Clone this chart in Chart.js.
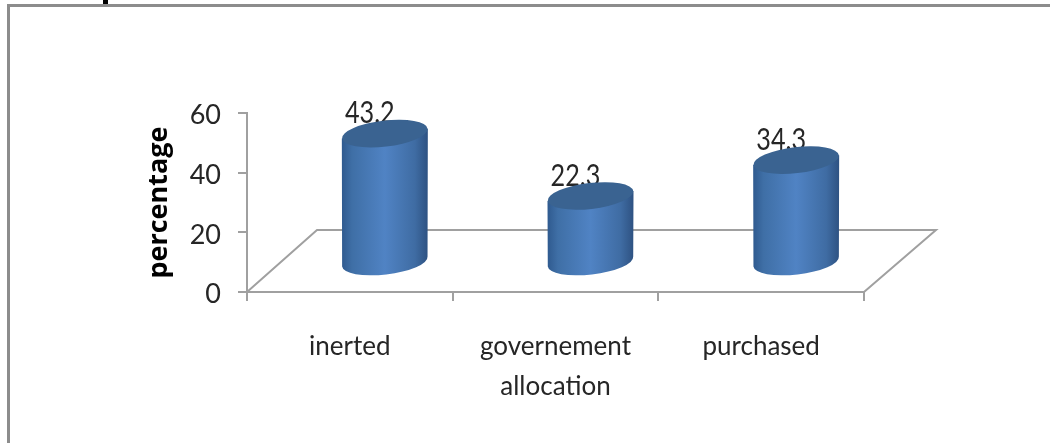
<!DOCTYPE html>
<html><head><meta charset="utf-8">
<style>html,body{margin:0;padding:0;background:#fff;overflow:hidden}
#wrap{position:relative;width:1050px;height:443px}
canvas{position:absolute;left:0;top:0;filter:blur(0.5px)}</style>
<script src="https://cdn.jsdelivr.net/npm/chart.js@4"></script>
</head><body><div id="wrap"><canvas id="c" width="1050" height="443"></canvas></div>
<script>
const categories = [['inerted'], ['governement','allocation'], ['purchased']];
const percentages = [43.2, 22.3, 34.3];
const yTicks = [0, 20, 40, 60];
const axisColor = '#a0a0a0';
const font = 'Lato,"Liberation Sans",sans-serif';
const DX = 35, DY = -29.5, RX = 43, RY = 13, TILT = -6.6 * Math.PI / 180;

function bodyGradient(ctx, x){
  const g = ctx.createLinearGradient(x - RX, 0, x + RX, 0);
  g.addColorStop(0, '#2f5a8f');
  g.addColorStop(0.12, '#3f6fa6');
  g.addColorStop(0.5, '#5083c4');
  g.addColorStop(0.85, '#3f6ca3');
  g.addColorStop(1, '#2e5282');
  return g;
}
const cylinder3d = {
  id: 'cylinder3d',
  beforeDatasetsDraw(chart){
    const {ctx, chartArea: a} = chart;
    ctx.save();
    ctx.strokeStyle = axisColor; ctx.lineWidth = 2;
    ctx.beginPath();
    ctx.moveTo(a.left, a.bottom);
    ctx.lineTo(a.left + 70, a.bottom - 62);
    ctx.lineTo(a.right + 72, a.bottom - 62);
    ctx.lineTo(a.right, a.bottom);
    ctx.stroke();
    ctx.restore();
  },
  beforeDatasetDraw(chart, args){
    const {ctx} = chart;
    const meta = args.meta;
    ctx.save();
    ctx.fillStyle = '#262626';
    ctx.font = '30px ' + font;
    ctx.textAlign = 'center'; ctx.textBaseline = 'middle';
    meta.data.forEach((el, i) => {
      const p = el.getProps(['x','y'], true);
      ctx.save();
      ctx.translate(p.x + DX - 15, p.y + DY - 20);
      ctx.scale(0.84, 1);
      ctx.fillText(percentages[i].toFixed(1), 0, 0);
      ctx.restore();
    });
    meta.data.forEach(el => {
      const p = el.getProps(['x','y','base'], true);
      const x = p.x + DX, top = p.y + DY, bot = p.base + DY;
      const dyEnd = RX * Math.sin(TILT);
      ctx.fillStyle = bodyGradient(ctx, x);
      ctx.beginPath();
      ctx.ellipse(x, bot, RX, RY, TILT, Math.PI, 0, true);
      ctx.lineTo(x + RX, top + dyEnd);
      ctx.lineTo(x - RX, top - dyEnd);
      ctx.closePath();
      ctx.fill();
      ctx.fillStyle = '#3a6391';
      ctx.beginPath();
      ctx.ellipse(x, top, RX, RY, TILT, 0, Math.PI * 2);
      ctx.fill();
    });
    ctx.restore();
    return false;
  }
};
const frame = {
  id: 'frame',
  beforeDraw(chart){
    const {ctx} = chart;
    ctx.save();
    ctx.fillStyle = '#000';
    ctx.fillRect(103, 0, 5, 4);
    ctx.fillStyle = '#8c8c8c';
    ctx.fillRect(8, 4, 1042, 3);
    ctx.fillRect(7, 4, 3, 439);
    ctx.restore();
  }
};
new Chart(document.getElementById('c'), {
  type: 'bar',
  data: { labels: categories, datasets: [{ data: percentages, backgroundColor: '#4f81bd', barThickness: 86 }] },
  plugins: [frame, cylinder3d],
  options: {
    responsive: false, animation: false,
    layout: { padding: { left: 143, top: 113, right: 186, bottom: 0 } },
    plugins: { legend: { display: false }, tooltip: { enabled: false } },
    scales: {
      y: {
        min: 0, max: 60,
        afterFit(s){ s.width = 104; },
        afterBuildTicks(s){ s.ticks = yTicks.map(v => ({value: v})); },
        border: { color: axisColor, width: 2 },
        grid: { drawOnChartArea: false, color: axisColor, lineWidth: 2, tickLength: 9 },
        ticks: { color: '#262626', font: { family: font, size: 27, lineHeight: '5px' }, padding: 17, callback: v => ['', String(v)] },
        title: { display: true, text: 'percentage', color: '#000', font: { family: '"Open Sans",sans-serif', size: 27, weight: 'bold' }, padding: { top: 0, bottom: 0 } }
      },
      x: {
        afterFit(s){ s.height = 151; },
        border: { color: axisColor, width: 2 },
        grid: { drawOnChartArea: false, color: axisColor, lineWidth: 2, tickLength: 9 },
        ticks: { color: '#262626', font: { family: font, size: 26, lineHeight: 1.55 }, padding: 25, maxRotation: 0, autoSkip: false }
      }
    }
  }
});
</script></body></html>
